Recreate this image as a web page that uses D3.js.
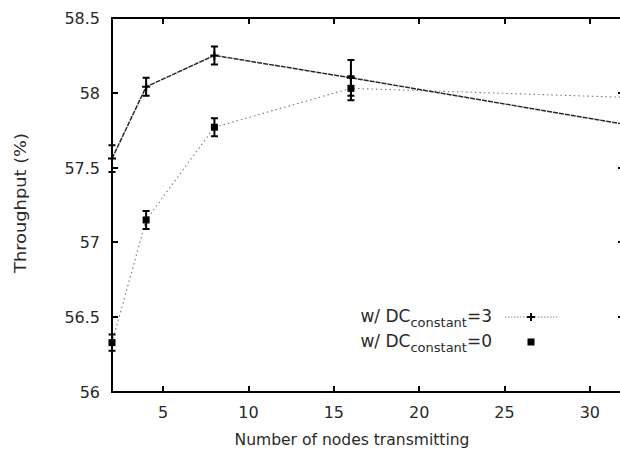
<!DOCTYPE html>
<html>
  <head>
    <meta charset="utf-8">
    <title>Throughput vs nodes</title>
    <script src="https://d3js.org/d3.v7.min.js"></script>
    <style>
      body { margin: 0; background: #fff; }
      svg { display: block; font-family: "DejaVu Sans", sans-serif; }
      text { fill: #2a2a2a; }
    </style>
  </head>
  <body>
    <div id="chart"></div>
    <script>
      // values
      var nodes = [2, 4, 8, 16, 32];
      var dc3 = [57.56, 58.04, 58.25, 58.1, 57.79];
      var dc3Err = [0.09, 0.06, 0.06, 0.12, 0.05];
      var dc0 = [56.33, 57.15, 57.77, 58.03, 57.97];
      var dc0Err = [0.055, 0.06, 0.06, 0.08, 0.05];
      var xTicks = [5, 10, 15, 20, 25, 30];
      var yTicks = [56, 56.5, 57, 57.5, 58, 58.5];

      var width = 620, height = 454;
      // plot box (right edge lies just past the window, as in the original)
      var pLeft = 112, pRight = 624, pTop = 18, pBottom = 392;

      var svg = d3.select("#chart").append("svg")
        .attr("width", width).attr("height", height);

      var x = d3.scaleLinear().domain([2, 32]).range([pLeft, pRight]);
      var y = d3.scaleLinear().domain([56, 58.5]).range([pBottom, pTop]);

      // frame
      svg.append("rect")
        .attr("x", pLeft).attr("y", pTop)
        .attr("width", pRight - pLeft).attr("height", pBottom - pTop)
        .attr("fill", "none").attr("stroke", "#000").attr("stroke-width", 2);

      // ticks, inward on all four sides
      var tickLen = 6;
      svg.selectAll(".xt").data(xTicks).enter().append("path")
        .attr("d", function (d) {
          var px = Math.round(x(d));
          return "M" + px + "," + pBottom + "v" + (-tickLen) +
                 "M" + px + "," + pTop + "v" + tickLen;
        })
        .attr("stroke", "#000").attr("stroke-width", 2);
      svg.selectAll(".yt").data(yTicks).enter().append("path")
        .attr("d", function (d) {
          var py = Math.round(y(d));
          return "M" + pLeft + "," + py + "h" + tickLen +
                 "M" + pRight + "," + py + "h" + (-tickLen);
        })
        .attr("stroke", "#000").attr("stroke-width", 2);

      // tick labels
      svg.selectAll(".xl").data(xTicks).enter().append("text")
        .attr("x", function (d) { return x(d); })
        .attr("y", 418)
        .attr("text-anchor", "middle")
        .attr("font-size", 16)
        .text(function (d) { return d; });
      svg.selectAll(".yl").data(yTicks).enter().append("text")
        .attr("x", 100)
        .attr("y", function (d) { return y(d) + 6; })
        .attr("text-anchor", "end")
        .attr("font-size", 16)
        .text(function (d) { return d; });

      // axis titles
      svg.append("text")
        .attr("x", 352).attr("y", 445)
        .attr("text-anchor", "middle")
        .attr("font-size", 16)
        .attr("textLength", 235).attr("lengthAdjust", "spacingAndGlyphs")
        .text("Number of nodes transmitting");
      svg.append("text")
        .attr("transform", "translate(26,203) rotate(-90)")
        .attr("text-anchor", "middle")
        .attr("font-size", 16)
        .attr("textLength", 140).attr("lengthAdjust", "spacingAndGlyphs")
        .text("Throughput (%)");

      var plot = svg.append("g");

      var seriesLine = d3.line()
        .x(function (d, i) { return x(nodes[i]); })
        .y(function (d) { return y(d); });

      // series DC=0 (light dotted)
      plot.append("path")
        .datum(dc0)
        .attr("d", seriesLine)
        .attr("fill", "none")
        .attr("stroke", "#777")
        .attr("stroke-width", 1.1)
        .attr("stroke-dasharray", "1.5,3");

      // series DC=3 (dark line)
      plot.append("path")
        .datum(dc3)
        .attr("d", seriesLine)
        .attr("fill", "none")
        .attr("stroke", "#2a2a2a")
        .attr("stroke-width", 1.5)
        .attr("stroke-dasharray", "5,1");

      function errorBars(vals, errs) {
        var g = plot.append("g").attr("stroke", "#000").attr("stroke-width", 2);
        g.selectAll("path").data(vals).enter().append("path")
          .attr("fill", "none")
          .attr("d", function (d, i) {
            var px = x(nodes[i]), t = y(d + errs[i]), b = y(d - errs[i]);
            return "M" + px + "," + t + "V" + b +
                   "M" + (px - 3.5) + "," + t + "h7" +
                   "M" + (px - 3.5) + "," + b + "h7";
          });
      }
      errorBars(dc3, dc3Err);
      errorBars(dc0, dc0Err);

      // markers
      plot.selectAll(".sq").data(dc0).enter().append("rect")
        .attr("x", function (d, i) { return x(nodes[i]) - 3.5; })
        .attr("y", function (d) { return y(d) - 3.5; })
        .attr("width", 7).attr("height", 7)
        .attr("fill", "#000");
      plot.selectAll(".pl").data(dc3).enter().append("path")
        .attr("d", function (d, i) {
          var px = x(nodes[i]), py = y(d);
          return "M" + (px - 4) + "," + py + "h8M" + px + "," + (py - 4) + "v8";
        })
        .attr("stroke", "#000").attr("stroke-width", 2);

      // legend
      var legend = svg.append("g");
      var entries = [
        { key: "3", yy: 317, line: true },
        { key: "0", yy: 342, line: false }
      ];
      entries.forEach(function (e) {
        var t = legend.append("text")
          .attr("x", 492).attr("y", e.yy + 5)
          .attr("text-anchor", "end")
          .attr("font-size", 17);
        t.append("tspan").text("w/ DC");
        t.append("tspan").attr("font-size", 13).attr("dy", 5).text("constant");
        t.append("tspan").attr("dy", -5).text("=" + e.key);
        if (e.line) {
          legend.append("line")
            .attr("x1", 505).attr("x2", 558)
            .attr("y1", e.yy).attr("y2", e.yy)
            .attr("stroke", "#888").attr("stroke-width", 1.1)
            .attr("stroke-dasharray", "1.5,1.5");
          legend.append("path")
            .attr("d", "M527," + e.yy + "h8M531," + (e.yy - 4) + "v8")
            .attr("stroke", "#000").attr("stroke-width", 2);
        } else {
          legend.append("rect")
            .attr("x", 527.5).attr("y", e.yy - 3.5)
            .attr("width", 7).attr("height", 7)
            .attr("fill", "#000");
        }
      });
    </script>
  </body>
</html>
